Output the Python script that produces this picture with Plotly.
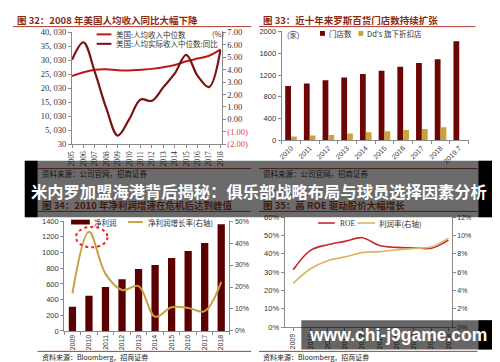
import plotly.graph_objects as go

W, H = 500, 362
def px(x): return x / W
def py(y): return 1 - y / H

# ---------------- data ----------------
years1 = list(range(2005, 2019))
median_income = [24400, 25800, 26700, 26900, 26500, 26400, 26700, 27000, 27600, 28400, 29700, 30700, 31700, 34000]
real_income_yoy = [4.8, 6.2, 3.8, 0.9, -1.3, 0.0, 1.6, 1.5, 2.6, 3.7, 5.2, 3.5, 2.6, 5.6]
left1_vals = [30 + 5000 * i for i in range(9)]
left1_text = ["30", "5, 030", "10, 030", "15, 030", "20, 030", "25, 030", "30, 030", "35, 030", "40, 030"]
right1_vals = [-2, -1, 0, 1, 2, 3, 4, 5, 6, 7]
right1_text = ["(2.00)", "(1.00)", "0.00", "1.00", "2.00", "3.00", "4.00", "5.00", "6.00", "7.00"]

store_years = ["2010", "2011", "2012", "2013", "2014", "2015", "2016", "2017", "2018", "2019.7"]
store_count = [1000, 1045, 1105, 1155, 1220, 1280, 1350, 1420, 1490, 1820]
dds_count = [70, 90, 100, 125, 150, 170, 190, 210, 240, None]

years3 = ["2009", "2010", "2011", "2012", "2013", "2014", "2015", "2016", "2017", "2018"]
net_profit = [310, 450, 560, 660, 790, 840, 930, 1020, 1120, 1360]
profit_growth = [17.1, 45.1, 26.0, 18.6, 20.4, 6.5, 10.8, 10.5, 9.0, 22.3]

years4 = ["2009", "2010", "2011", "2012", "2013", "2014", "2015", "2016", "2017", "2018"]
roe = [31.3, 41.9, 45.0, 46.8, 48.8, 44.5, 43.5, 43.3, 43.0, 47.5]
margin = [4.78, 6.37, 7.25, 7.67, 8.13, 8.24, 8.42, 8.6, 8.74, 9.72]

# ---------------- styles ----------------
CJK = "Noto Sans CJK SC"
SANS = "Liberation Sans"
SERIF = "Liberation Serif"
TITLE_RED = "#8B2A12"
RULE_RED = "#B43A2E"
C_LINE1 = "#BC1A1A"
C_LINE2 = "#7A1212"
C_BAR_DARK = "#6E0505"
C_BAR_GOLD = "#C9A23A"
C_BAR3 = "#5A0000"
C_GOLD_LINE = "#C8A040"
C_ROE = "#C8282D"
C_MARGIN = "#DDB560"

fig = go.Figure()

# Panel 1
fig.add_trace(go.Scatter(x=years1, y=median_income, mode="lines",
                         line=dict(color=C_LINE1, width=2, shape="spline"),
                         xaxis="x", yaxis="y", showlegend=False))
fig.add_trace(go.Scatter(x=years1, y=real_income_yoy, mode="lines",
                         line=dict(color=C_LINE2, width=2.2, shape="spline"),
                         xaxis="x", yaxis="y2", showlegend=False))
# Panel 2
fig.add_trace(go.Bar(x=store_years, y=store_count, marker=dict(color=C_BAR_DARK, line=dict(width=0)),
                     width=0.31, offset=-0.31, xaxis="x2", yaxis="y3", showlegend=False))
fig.add_trace(go.Bar(x=store_years, y=dds_count, marker=dict(color=C_BAR_GOLD, line=dict(width=0)),
                     width=0.31, offset=0.0, xaxis="x2", yaxis="y3", showlegend=False))
# Panel 3
fig.add_trace(go.Bar(x=years3, y=net_profit, marker=dict(color=C_BAR3, line=dict(width=0)),
                     width=0.44, offset=-0.22, xaxis="x3", yaxis="y4", showlegend=False))
fig.add_trace(go.Scatter(x=years3, y=profit_growth, mode="lines",
                         line=dict(color=C_GOLD_LINE, width=2, shape="spline"),
                         xaxis="x3", yaxis="y5", showlegend=False))
# Panel 4
fig.add_trace(go.Scatter(x=years4, y=roe, mode="lines",
                         line=dict(color=C_ROE, width=1.6, shape="spline"),
                         xaxis="x4", yaxis="y6", showlegend=False))
fig.add_trace(go.Scatter(x=years4, y=margin, mode="lines",
                         line=dict(color=C_MARGIN, width=1.6, shape="spline"),
                         xaxis="x4", yaxis="y7", showlegend=False))

def ax(**kw):
    base = dict(showline=True, linecolor="#8a8a8a", linewidth=1, ticks="outside", ticklen=3,
                tickcolor="#8a8a8a", showgrid=False, zeroline=False,
                tickfont=dict(family=SANS, size=7.5, color="#333"))
    base.update(kw)
    return base

neg = "<span style='color:#E8403A'>%s</span>"
r1_text = [neg % t if t.startswith("(") else t for t in right1_text]

fig.update_layout(
    width=W, height=H, margin=dict(l=0, r=0, t=0, b=0),
    paper_bgcolor="white", plot_bgcolor="rgba(0,0,0,0)", showlegend=False,
    xaxis=ax(domain=[px(60), px(212)], anchor="y", range=[2005, 2018.1], tickvals=years1,
             tickangle=-90, tickfont=dict(family=SERIF, size=7.5, color="#333")),
    yaxis=ax(domain=[py(135), py(20)], anchor="x", range=[30, 40030], tickvals=left1_vals,
             ticktext=left1_text, tickfont=dict(family=SERIF, size=8.5, color="#333")),
    yaxis2=ax(overlaying="y", side="right", anchor="x", range=[-2, 7], tickvals=right1_vals,
              ticktext=r1_text, tickfont=dict(family=SERIF, size=8.5, color="#333")),
    xaxis2=ax(domain=[px(273), px(463)], anchor="y3", type="category", tickangle=-45,
              tickson="boundaries", tickfont=dict(family=SANS, size=7, color="#333")),
    yaxis3=ax(domain=[py(131), py(19)], anchor="x2", range=[0, 2000], dtick=400),
    xaxis3=ax(domain=[px(52), px(220)], anchor="y4", type="category", tickangle=-90,
              tickson="boundaries", tickfont=dict(family=SANS, size=7, color="#333")),
    yaxis4=ax(domain=[py(327), py(214)], anchor="x3", range=[0, 1400], dtick=200),
    yaxis5=ax(overlaying="y4", side="right", anchor="x3", range=[0, 50], dtick=10, ticksuffix="%",
              tickfont=dict(family=SANS, size=7, color="#333")),
    xaxis4=ax(domain=[px(276), px(446)], anchor="y6", type="category", range=[-0.5, 9.2],
              tickangle=-90, tickfont=dict(family=SANS, size=7, color="#333")),
    yaxis6=ax(domain=[py(323), py(210)], anchor="x4", range=[0, 60], dtick=10, ticksuffix="%"),
    yaxis7=ax(overlaying="y6", side="right", anchor="x4", range=[0, 12], dtick=2, ticksuffix="%",
              tickfont=dict(family=SANS, size=7, color="#333")),
)

shapes = []
def hline(x0, x1, y, color=RULE_RED, w=1):
    shapes.append(dict(type="line", xref="paper", yref="paper", x0=px(x0), x1=px(x1),
                       y0=py(y), y1=py(y), line=dict(color=color, width=w), layer="above"))
def rect(x0, x1, y0, y1, fill):
    shapes.append(dict(type="rect", xref="paper", yref="paper", x0=px(x0), x1=px(x1),
                       y0=py(y1), y1=py(y0), fillcolor=fill, line=dict(width=0), layer="above"))

# rules
hline(0, 242, 14); hline(250, 470, 14)
hline(25, 242, 160); hline(250, 472, 160)
hline(25, 242, 204); hline(250, 472, 204)
hline(25, 242, 348); hline(250, 472, 348)

# legend samples
hline(85, 100, 22, C_LINE1, 2)
hline(85, 100, 31.7, C_LINE2, 2)
rect(312, 317, 18.5, 23.5, C_BAR_DARK)
rect(351, 356, 18.5, 23.5, C_BAR_GOLD)
rect(59, 78, 212.5, 217.5, C_BAR3)
hline(117, 132, 215, C_GOLD_LINE, 2)
hline(310, 327, 216, C_ROE, 1.6)
hline(350, 368, 216, C_MARGIN, 1.6)

# highlight ellipse
shapes.append(dict(type="circle", xref="paper", yref="paper", x0=px(64), x1=px(96),
                   y0=py(241), y1=py(220), line=dict(color="#FF2020", width=2, dash="dot"),
                   layer="above"))

# overlay bands
rect(12, 488, 152, 210, "rgba(0,0,0,0.58)")
rect(12, 25, 152, 210, "#000000")
rect(473, 488, 152, 210, "#000000")
rect(293, 490, 316, 346, "rgba(0,0,0,0.6)")
rect(473, 490, 316, 346, "#000000")

fig.update_layout(shapes=shapes)

ann = []
def text(x, y, s, size=8, color="#222", family=CJK, xanchor="left", bold=False):
    if bold:
        s = "<b>" + s + "</b>"
    ann.append(dict(x=px(x), y=py(y), xref="paper", yref="paper", text=s, showarrow=False,
                    xanchor=xanchor, yanchor="middle", font=dict(size=size, color=color, family=family)))

text(2, 7.5, "图 32：2008 年美国人均收入同比大幅下降", 9.5, TITLE_RED, bold=True)
text(252, 7.5, "图 33：近十年来罗斯百货门店数持续扩张", 9.5, TITLE_RED, bold=True)
text(27, 197.5, "图 34：2010 年净利润增速在危机后达到峰值", 9.5, "#3f1a0e", bold=True)
text(252, 197.5, "图 35：高 ROE 驱动股价大幅增长", 9.5, "#3f1a0e", bold=True)

text(103, 22, "美国:人均收入中位数", 7.5, "#333")
text(103, 31.7, "美国:人均实际收入中位数:同比", 7.5, "#333")
text(216, 21, "(%)", 7.5, "#333", xanchor="right")
text(276, 22, "(家)", 7.5, "#333")
text(319, 21, "门店数", 7.5, "#333")
text(358, 21, "Dd's 旗下折扣店", 7.5, "#333")
text(80, 215, "净利润", 7.5, "#333")
text(135, 215, "净利润增长率(右轴)", 7.5, "#333")
text(330, 216, "ROE", 7.5, "#333", family=SERIF)
text(370, 216, "利润率(右轴)", 7.5, "#333")

text(27, 165, "资料来源：公司官网，招商证券", 7.5, "#111")
text(252, 165, "资料来源：公司官网，招商证券", 7.5, "#111")
text(27, 353.5, "资料来源：Bloomberg，招商证券", 7, "#222")
text(252, 353.5, "资料来源：Bloomberg，招商证券", 7, "#222")

text(250, 183.5, "米内罗加盟海港背后揭秘：俱乐部战略布局与球员选择因素分析", 16.3, "white",
     xanchor="center", bold=True)
text(391, 331, "www.chi-j9game.com", 17.5, "white", family=SANS, xanchor="center", bold=True)

fig.update_layout(annotations=ann)
fig.write_html("out.html")
